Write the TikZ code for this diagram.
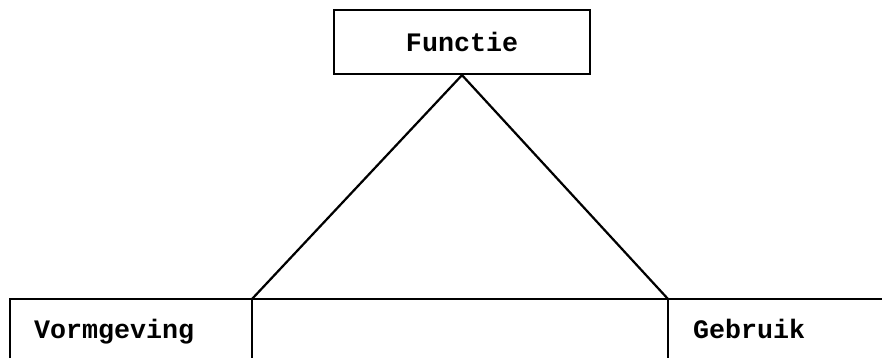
\documentclass[tikz,border=0pt]{standalone}
\usepackage{fontspec}
\setmonofont{Liberation Mono}
\usetikzlibrary{positioning}
\begin{document}
\begin{tikzpicture}[x=0.45pt,y=-0.45pt,line width=1pt,
  lbl/.style={font=\ttfamily\bfseries\fontsize{12}{14}\selectfont,inner sep=0pt}]
\useasboundingbox (0,0) rectangle (882,358);
\node[draw,lbl,minimum width=256*0.45pt,minimum height=64*0.45pt,text depth=0pt] (functie) at (462,42) {Functie};
\coordinate (vl) at (252,299);
\coordinate (vr) at (668,299);
\node[lbl,anchor=base west] (vorm) at (33,338) {Vormgeving};
\node[lbl,anchor=base west] (gebruik) at (692,338) {Gebruik};
% frame of the lower row, cut at the bottom
\draw (10,358)--(10,299)--(882,299);
\draw (vl)--(252,358);
\draw (vr)--(668,358);
\draw (functie.south)--(vl);
\draw (functie.south)--(vr);
\end{tikzpicture}
\end{document}
